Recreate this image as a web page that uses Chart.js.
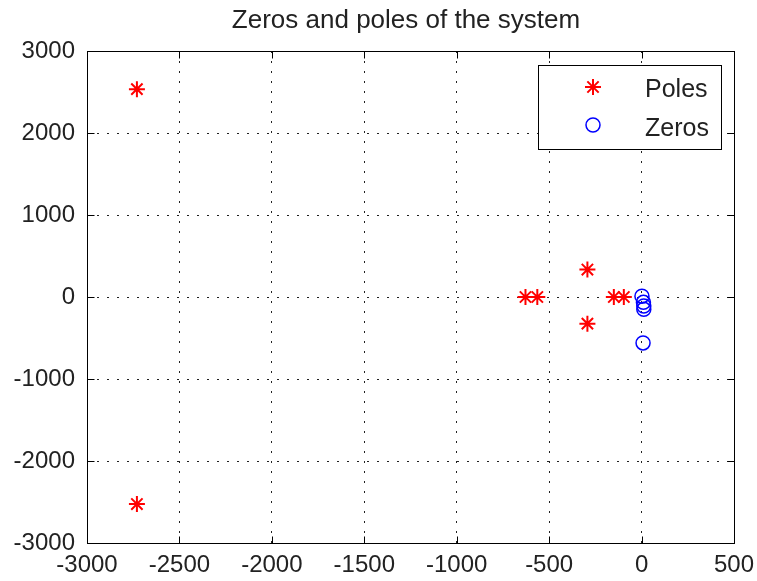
<!DOCTYPE html>
<html>
<head>
<meta charset="utf-8">
<script src="https://cdn.jsdelivr.net/npm/chart.js@4/dist/chart.umd.min.js"></script>
<style>
  html, body { margin: 0; background: #fff; }
  #wrap { width: 757px; height: 581px; }
</style>
</head>
<body>
<div id="wrap"><canvas id="pz-chart"></canvas></div>
<script>
const CHART_TITLE = "Zeros and poles of the system";
const LEGEND_LABELS = ["Poles", "Zeros"];
const X_TICKS = [-3000, -2500, -2000, -1500, -1000, -500, 0, 500];
const Y_TICKS = [-3000, -2000, -1000, 0, 1000, 2000, 3000];

// poles (real / imaginary part)
const POLES_RE = [-2730, -2730, -628, -564, -293, -293, -150, -96];
const POLES_IM = [2535, -2525, 0, 0, 335, -325, 0, 0];

// zeros
const ZEROS_RE = [2, 10, 12, 12, 8];
const ZEROS_IM = [10, -65, -110, -150, -560];

const FONT = "'Liberation Sans', Arial, sans-serif";
const TEXT_COLOR = "#222";
const TICK_LEN = 7;

function toPoints(re, im) {
  return re.map((x, i) => ({ x, y: im[i] }));
}

function drawStar(ctx, x, y, r) {
  ctx.beginPath();
  for (let k = 0; k < 4; k++) {
    const a = (k * Math.PI) / 4;
    ctx.moveTo(x - Math.cos(a) * r, y - Math.sin(a) * r);
    ctx.lineTo(x + Math.cos(a) * r, y + Math.sin(a) * r);
  }
  ctx.stroke();
}

const frameAndLegend = {
  id: "frameAndLegend",
  afterDraw(chart) {
    const { ctx, chartArea: area, scales } = chart;
    const left = Math.round(area.left) + 0.5;
    const top = Math.round(area.top) + 0.5;
    const right = Math.round(area.right) + 0.5;
    const bottom = Math.round(area.bottom) + 0.5;

    ctx.save();
    ctx.strokeStyle = "#000";
    ctx.lineWidth = 1;
    ctx.strokeRect(left, top, right - left, bottom - top);

    // inward ticks on all four sides
    ctx.beginPath();
    X_TICKS.forEach((v) => {
      const px = Math.round(scales.x.getPixelForValue(v)) + 0.5;
      ctx.moveTo(px, bottom); ctx.lineTo(px, bottom - TICK_LEN);
      ctx.moveTo(px, top); ctx.lineTo(px, top + TICK_LEN);
    });
    Y_TICKS.forEach((v) => {
      const py = Math.round(scales.y.getPixelForValue(v)) + 0.5;
      ctx.moveTo(left, py); ctx.lineTo(left + TICK_LEN, py);
      ctx.moveTo(right, py); ctx.lineTo(right - TICK_LEN, py);
    });
    ctx.stroke();

    // title
    ctx.fillStyle = TEXT_COLOR;
    ctx.font = `26px ${FONT}`;
    ctx.textAlign = "center";
    ctx.textBaseline = "alphabetic";
    ctx.fillText(CHART_TITLE, 406, 28);

    // legend box
    ctx.fillStyle = "#fff";
    ctx.fillRect(538.5, 65.5, 183, 84);
    ctx.strokeStyle = "#000";
    ctx.strokeRect(538.5, 65.5, 183, 84);

    ctx.strokeStyle = "#ff0000";
    ctx.lineWidth = 2;
    drawStar(ctx, 593, 87, 8);

    ctx.strokeStyle = "#0000ff";
    ctx.lineWidth = 1.5;
    ctx.beginPath();
    ctx.arc(593, 125, 7, 0, Math.PI * 2);
    ctx.stroke();

    ctx.fillStyle = TEXT_COLOR;
    ctx.font = `25px ${FONT}`;
    ctx.textAlign = "left";
    ctx.fillText(LEGEND_LABELS[0], 645, 97);
    ctx.fillText(LEGEND_LABELS[1], 645, 136);
    ctx.restore();
  },
};

function initPoleZeroChart() {
  const canvas = document.getElementById("pz-chart");
  if (!canvas || typeof Chart === "undefined") return null;

  const gridStyle = {
    color: "#222",
    lineWidth: 1,
    drawTicks: false,
  };
  const tickFont = { family: FONT, size: 24 };

  return new Chart(canvas.getContext("2d"), {
    type: "scatter",
    data: {
      datasets: [
        {
          label: LEGEND_LABELS[0],
          data: toPoints(POLES_RE, POLES_IM),
          pointStyle: "star",
          pointRadius: 8,
          borderColor: "#ff0000",
          backgroundColor: "#ff0000",
          borderWidth: 2,
          showLine: false,
        },
        {
          label: LEGEND_LABELS[1],
          data: toPoints(ZEROS_RE, ZEROS_IM),
          pointStyle: "circle",
          pointRadius: 7,
          borderColor: "#0000ff",
          backgroundColor: "rgba(0,0,0,0)",
          borderWidth: 1.5,
          showLine: false,
        },
      ],
    },
    options: {
      responsive: true,
      maintainAspectRatio: false,
      animation: false,
      events: [],
      layout: { padding: { top: 51, right: 23, left: 0, bottom: 0 } },
      plugins: {
        legend: { display: false },
        title: { display: false },
        tooltip: { enabled: false },
      },
      scales: {
        x: {
          type: "linear",
          min: X_TICKS[0],
          max: X_TICKS[X_TICKS.length - 1],
          afterBuildTicks: (scale) => { scale.ticks = X_TICKS.map((value) => ({ value })); },
          afterFit: (scale) => {
            scale.height = 38;
            scale.paddingLeft = 0;
            scale.paddingRight = 0;
          },
          grid: gridStyle,
          border: { display: false, dash: [2, 8] },
          ticks: {
            font: tickFont,
            color: TEXT_COLOR,
            padding: 8,
            maxRotation: 0,
            autoSkip: false,
            callback: (value) => String(value),
          },
        },
        y: {
          type: "linear",
          min: Y_TICKS[0],
          max: Y_TICKS[Y_TICKS.length - 1],
          afterBuildTicks: (scale) => { scale.ticks = Y_TICKS.map((value) => ({ value })); },
          afterFit: (scale) => {
            scale.width = 87;
            scale.paddingTop = 0;
            scale.paddingBottom = 0;
          },
          grid: gridStyle,
          border: { display: false, dash: [2, 8] },
          ticks: {
            font: tickFont,
            color: TEXT_COLOR,
            padding: 12,
            autoSkip: false,
            callback: (value) => String(value),
          },
        },
      },
    },
    plugins: [frameAndLegend],
  });
}

initPoleZeroChart();
</script>
</body>
</html>
